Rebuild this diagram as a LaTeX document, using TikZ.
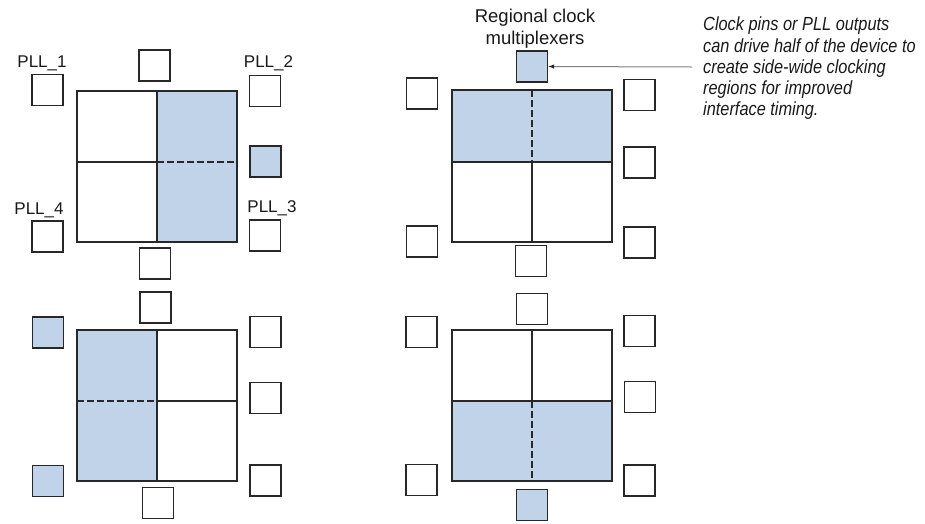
\documentclass[tikz,border=0pt]{standalone}
\usepackage{fontspec}
\setmainfont{Liberation Sans}
\newfontfamily\annfont[FakeStretch=0.86]{Liberation Sans}
\usetikzlibrary{arrows.meta}
\definecolor{regblue}{RGB}{193,211,232}
\definecolor{lineclr}{RGB}{40,40,40}
\begin{document}
\begin{tikzpicture}[x=1pt,y=-1pt,
  sbox/.style={draw=lineclr, line width=1.2pt, minimum size=31pt, inner sep=0pt, fill=white},
  sboxb/.style={sbox, fill=regblue},
  frame/.style={draw=lineclr, line width=1.2pt},
  split/.style={draw=lineclr, line width=1.1pt},
  dsplit/.style={draw=lineclr, line width=2.7pt, dash pattern=on 7pt off 3pt},
  lbl/.style={font=\fontsize{17}{20}\selectfont, text=black!90, inner sep=0pt, anchor=base},
  hdr/.style={font=\fontsize{18.5}{22}\selectfont, text=black!90, inner sep=0pt, align=center, anchor=north},
  ann/.style={font=\annfont\itshape\fontsize{19}{21.2}\selectfont, text=black!90, inner sep=0pt, align=left, anchor=north west},
  callout/.style={draw=gray, line width=1pt, -{Latex[length=6pt,width=4.5pt,color=black!85]}}
]
\useasboundingbox (0,0) rectangle (925,523);

% ---------- top-left device: right half ----------
\fill[regblue] (157,91) rectangle (237,242);
\draw[split] (77,162) -- (157,162);
\draw[split] (157,91) -- (157,242);
\draw[dsplit] (157,162) -- (237,162);
\draw[frame] (77,91) rectangle (237,242);
\node[sbox]  (a1) at (47.5,90) {};
\node[sbox]  (a2) at (154.5,65.5) {};
\node[sbox]  (a3) at (265,91) {};
\node[sboxb] (a4) at (265.5,161.5) {};
\node[sbox]  (a5) at (265,235.5) {};
\node[sbox]  (a6) at (155,263.5) {};
\node[sbox]  (a7) at (47.5,236.5) {};
\node[lbl] (pll1) at (42,67) {PLL\_1};
\node[lbl] (pll2) at (268.5,67) {PLL\_2};
\node[lbl] (pll3) at (272,212.5) {PLL\_3};
\node[lbl] (pll4) at (39,214) {PLL\_4};

% ---------- top-right device: top half ----------
\fill[regblue] (452,90) rectangle (612,162);
\draw[split] (452,162) -- (612,162);
\draw[split] (532,162) -- (532,242);
\draw[dsplit] (532,90) -- (532,162);
\draw[frame] (452,90) rectangle (612,242);
\node[sbox]  (b1) at (422,93.5) {};
\node[sboxb] (mux) at (532,66.5) {};
\node[sbox]  (b3) at (639.5,95) {};
\node[sbox]  (b4) at (639.5,162.5) {};
\node[sbox]  (b5) at (639.5,242.5) {};
\node[sbox]  (b6) at (531,261) {};
\node[sbox]  (b7) at (422,241.5) {};
\node[hdr] (muxlbl) at (535,8.5) {Regional clock\\multiplexers};
\node[ann] (note) at (703,17) {Clock pins or PLL outputs\\can drive half of the device to\\create side-wide clocking\\regions for improved\\interface timing.};
\coordinate (notetail) at (692,67);
\draw[callout] (notetail) -- (mux.east);

% ---------- bottom-left device: left half ----------
\fill[regblue] (77,330) rectangle (157,481);
\draw[split] (157,401) -- (237,401);
\draw[split] (157,330) -- (157,481);
\draw[dsplit] (77,401) -- (157,401);
\draw[frame] (77,330) rectangle (237,481);
\node[sboxb] (c1) at (48,332.5) {};
\node[sbox]  (c2) at (155.5,307.5) {};
\node[sbox]  (c3) at (265.5,332) {};
\node[sbox]  (c4) at (265.5,398) {};
\node[sbox]  (c5) at (265.5,480.5) {};
\node[sbox]  (c6) at (158,503) {};
\node[sboxb] (c7) at (48,481) {};

% ---------- bottom-right device: bottom half ----------
\fill[regblue] (452,401) rectangle (612,481);
\draw[split] (452,401) -- (612,401);
\draw[split] (532,330) -- (532,401);
\draw[dsplit] (532,401) -- (532,481);
\draw[frame] (452,330) rectangle (612,481);
\node[sbox]  (d1) at (421.5,332) {};
\node[sbox]  (d2) at (532,309) {};
\node[sbox]  (d3) at (639.5,331) {};
\node[sbox]  (d4) at (640,397) {};
\node[sbox]  (d5) at (639.5,480.5) {};
\node[sboxb] (d6) at (532,505) {};
\node[sbox]  (d7) at (421.5,480) {};
\end{tikzpicture}
\end{document}
